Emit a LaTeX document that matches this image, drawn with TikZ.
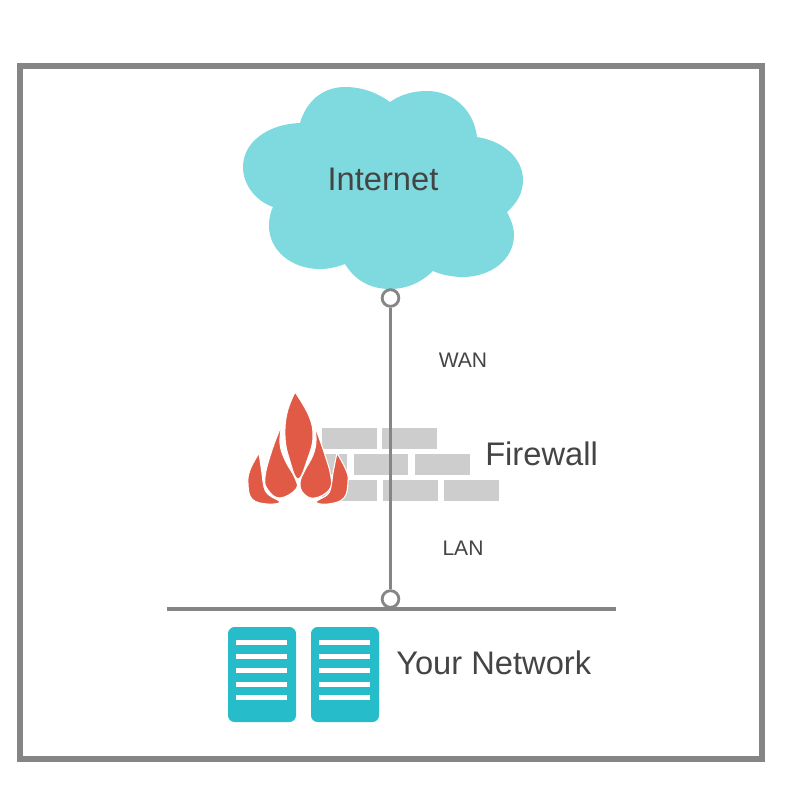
\documentclass[tikz,border=0pt]{standalone}
\usepackage{fontspec}
\setmainfont{Liberation Sans}
\definecolor{framegray}{HTML}{858585}
\definecolor{cloudblue}{HTML}{7FDAE0}
\definecolor{flamered}{HTML}{E05A45}
\definecolor{brickgray}{HTML}{CDCDCD}
\definecolor{serverteal}{HTML}{26BCC9}
\definecolor{labelgray}{HTML}{444444}
\tikzset{
  bigtext/.style={text=labelgray,inner sep=0.75pt,font=\fontsize{24.5pt}{28pt}\selectfont},
  smalltext/.style={text=labelgray,inner sep=0.75pt,font=\fontsize{15.8pt}{18pt}\selectfont},
  port/.style={circle,draw=framegray,fill=white,line width=2.1pt,minimum size=12.5pt,inner sep=0pt},
  brick/.style={fill=brickgray},
  flame/.style={fill=flamered,draw=white,line width=0.8pt,line join=miter},
  server/.style={fill=serverteal,rounded corners=5pt},
  slat/.style={fill=white}
}
\begin{document}
\begin{tikzpicture}[x=0.75pt,y=0.75pt,yscale=-1,xscale=1]
\useasboundingbox (0,0) rectangle (800,800);

%Outer frame
\draw [framegray,line width=4.5pt] (19.5,66) rectangle (762,759);

%Cloud
\fill [cloudblue] (300,123) .. controls (306,102) and (322,87) .. (345,87)
  .. controls (364,87) and (379,94) .. (390,102)
  .. controls (400,95) and (412,91) .. (427,91)
  .. controls (453,91) and (474,110) .. (477,137)
  .. controls (503,141) and (523,158) .. (523,180)
  .. controls (523,193) and (517,203) .. (507,212)
  .. controls (511,220) and (514,227) .. (514,235)
  .. controls (514,260) and (490,277) .. (463,277)
  .. controls (453,277) and (442,275) .. (433,271)
  .. controls (422,282) and (407,289) .. (390,289)
  .. controls (369,289) and (354,279) .. (345,264)
  .. controls (337,267) and (329,269) .. (320,269)
  .. controls (291,269) and (269,250) .. (269,226)
  .. controls (269,219) and (270,213) .. (273,207)
  .. controls (256,201) and (243,185) .. (243,167)
  .. controls (243,142) and (268,124) .. (300,123) -- cycle ;

%Bricks
\fill [brick] (322,428) rectangle (377,449);
\fill [brick] (382,428) rectangle (437,449);
\fill [brick] (322,454) rectangle (347,475);
\fill [brick] (354,454) rectangle (408,475);
\fill [brick] (415,454) rectangle (470,475);
\fill [brick] (322,480) rectangle (377,501);
\fill [brick] (383,480) rectangle (438,501);
\fill [brick] (444,480) rectangle (499,501);

%Flame
\draw [flame] plot [smooth,tension=0.7] coordinates {(295,392) (309,416) (313,437) (308,458) (298,479) (289,458) (285,437) (287,413) (295,392)} -- cycle ;
\draw [flame] plot [smooth,tension=0.7] coordinates {(282,424) (280,443) (285,460) (295,478) (296,489) (280,498) (268,490) (265,477) (272,450) (282,424)} -- cycle ;
\draw [flame] plot [smooth,tension=0.7] coordinates {(314,424) (324,452) (331,477) (329,490) (315,498) (304,494) (300,483) (305,470) (313,455) (316,440) (314,424)} -- cycle ;
\draw [flame] plot [smooth,tension=0.7] coordinates {(259,453) (250,470) (248,484) (252,499) (267,504) (280,502) (269,495) (264,487) (262,473) (259,453)} -- cycle ;
\draw [flame] plot [smooth,tension=0.7] coordinates {(337,453) (346,470) (348,481) (344,498) (328,504) (316,502) (327,495) (331,487) (333,473) (337,453)} -- cycle ;

%Ports and the line between them
\node [port] (wanport) at (390.5,298) {};
\node [port] (lanport) at (390.5,599) {};
\draw [framegray,line width=2.25pt] (wanport) -- (lanport);

%Network line
\coordinate (netleft) at (167,608.5);
\coordinate (netright) at (616,608.5);
\draw [framegray,line width=3pt] (netleft) -- (netright);

%Servers
\fill [server] (228,627) rectangle (296,722);
\fill [slat] (236,639.5) rectangle (287,644.5);
\fill [slat] (236,653.5) rectangle (287,658.5);
\fill [slat] (236,667.5) rectangle (287,672.5);
\fill [slat] (236,681.5) rectangle (287,686.5);
\fill [slat] (236,694.5) rectangle (287,699.5);
\fill [server] (311,627) rectangle (379,722);
\fill [slat] (319,639.5) rectangle (370,644.5);
\fill [slat] (319,653.5) rectangle (370,658.5);
\fill [slat] (319,667.5) rectangle (370,672.5);
\fill [slat] (319,681.5) rectangle (370,686.5);
\fill [slat] (319,694.5) rectangle (370,699.5);

% Text Node
\node [bigtext] (internet) at (383,179) {Internet};
% Text Node
\node [smalltext] (wan) at (463,360) {WAN};
% Text Node
\node [bigtext,anchor=west] (firewall) at (484,454) {Firewall};
% Text Node
\node [smalltext] (lan) at (463,548) {LAN};
% Text Node
\node [bigtext,anchor=west] (yournetwork) at (395,663) {Your Network};

\end{tikzpicture}
\end{document}
